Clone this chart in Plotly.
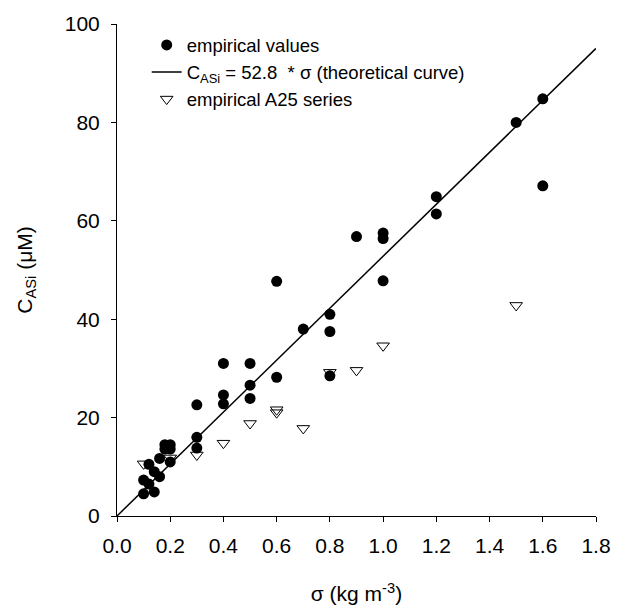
import plotly.graph_objects as go

# empirical values (filled circles)
emp_x = [0.1, 0.1, 0.12, 0.12, 0.14, 0.14, 0.16, 0.16, 0.18, 0.18,
         0.2, 0.2, 0.2, 0.3, 0.3, 0.3, 0.4, 0.4, 0.4, 0.5, 0.5, 0.5,
         0.6, 0.6, 0.7, 0.8, 0.8, 0.8, 0.9, 1.0, 1.0, 1.0, 1.2, 1.2,
         1.5, 1.6, 1.6]
emp_y = [4.5, 7.3, 6.5, 10.5, 4.9, 9.0, 8.0, 11.7, 13.6, 14.5,
         14.5, 13.6, 11.0, 22.6, 16.0, 13.8, 31.0, 24.6, 22.8, 31.0, 26.6, 23.9,
         47.7, 28.2, 38.0, 41.0, 37.5, 28.5, 56.8, 57.5, 56.4, 47.8, 64.9, 61.4,
         80.0, 84.8, 67.1]

# empirical A25 series (open triangles)
a25_x = [0.1, 0.2, 0.3, 0.4, 0.5, 0.6, 0.6, 0.7, 0.8, 0.9, 1.0, 1.5]
a25_y = [10.6, 11.8, 12.4, 14.8, 18.8, 21.6, 21.0, 17.8, 29.2, 29.6, 34.6, 42.8]

# theoretical curve
slope = 52.8
line_x = [0.0, 1.8]
line_y = [slope * v for v in line_x]

x_ticks = [0.0, 0.2, 0.4, 0.6, 0.8, 1.0, 1.2, 1.4, 1.6, 1.8]
x_tick_labels = ["0.0", "0.2", "0.4", "0.6", "0.8", "1.0", "1.2", "1.4", "1.6", "1.8"]
y_ticks = [0, 20, 40, 60, 80, 100]

FONT = "Liberation Sans, Arial, sans-serif"

fig = go.Figure()
fig.add_trace(go.Scatter(
    x=emp_x, y=emp_y, mode="markers", name="empirical values",
    marker=dict(symbol="circle", size=11, color="black", line=dict(width=0)),
))
fig.add_trace(go.Scatter(
    x=line_x, y=line_y, mode="lines",
    name="C<sub>ASi</sub> = 52.8  * σ (theoretical curve)",
    line=dict(color="black", width=1.5),
))
fig.add_trace(go.Scatter(
    x=a25_x, y=a25_y, mode="markers", name="empirical A25 series",
    marker=dict(symbol="triangle-down-open", size=11, color="black",
                line=dict(width=1, color="black")),
))

fig.update_layout(
    width=626, height=608,
    margin=dict(l=117, r=30, t=24, b=92, autoexpand=False),
    paper_bgcolor="white", plot_bgcolor="white",
    font=dict(family=FONT, size=21, color="black"),
    showlegend=True,
    legend=dict(
        x=0.062, y=0.995, xanchor="left", yanchor="top",
        bgcolor="rgba(0,0,0,0)", borderwidth=0,
        font=dict(family=FONT, size=18.5, color="black"),
        tracegroupgap=0,
    ),
    xaxis=dict(
        range=[0, 1.8], tickmode="array", tickvals=x_ticks, ticktext=x_tick_labels,
        showgrid=False, zeroline=False, showline=True, linecolor="black", linewidth=1,
        ticks="outside", ticklen=5, tickwidth=1, tickcolor="black",
        tickfont=dict(family=FONT, size=21), ticklabelstandoff=6,
        title=dict(text="σ (kg m<sup>-3</sup>)", font=dict(family=FONT, size=21), standoff=30),
        automargin=False,
    ),
    yaxis=dict(
        range=[0, 100], tickmode="array", tickvals=y_ticks,
        showgrid=False, zeroline=False, showline=True, linecolor="black", linewidth=1,
        ticks="outside", ticklen=5, tickwidth=1, tickcolor="black",
        tickfont=dict(family=FONT, size=21), ticklabelstandoff=7,
        title=dict(text="C<sub>ASi</sub> (μM)", font=dict(family=FONT, size=21), standoff=26),
        automargin=False,
    ),
)

fig.write_html("out.html")
